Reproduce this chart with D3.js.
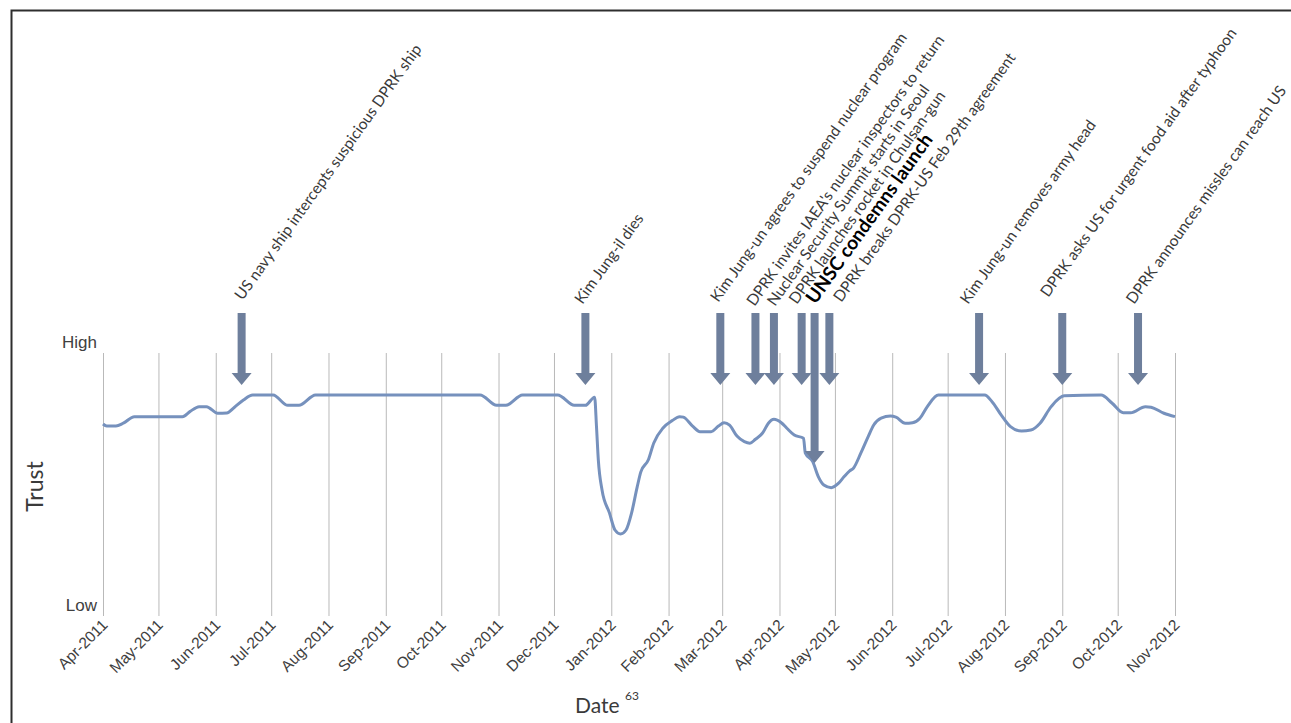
<!DOCTYPE html>
<html>
<head>
<meta charset="utf-8">
<script src="https://cdnjs.cloudflare.com/ajax/libs/d3/7.8.5/d3.min.js"></script>
<style>
  body { margin: 0; background: #fff; }
  svg { display: block; font-family: Lato, "Open Sans", sans-serif; }
  .x-axis text { fill: #404040; font-size: 15.5px; }
  .y-axis text { fill: #404040; font-size: 17px; }
</style>
</head>
<body>
<div id="chart"></div>
<script>
// 1: DATA (trust 0 = Low, 100 = High)
const trustDates = [
  "2011-04-01", "2011-04-03", "2011-04-08", "2011-04-12", "2011-04-18", "2011-05-14",
  "2011-05-18", "2011-05-23", "2011-05-27", "2011-06-02", "2011-06-07", "2011-06-11",
  "2011-06-16", "2011-06-21", "2011-07-02", "2011-07-10", "2011-07-16", "2011-07-25",
  "2011-10-22", "2011-10-31", "2011-11-05", "2011-11-14", "2011-12-03", "2011-12-12",
  "2011-12-18", "2011-12-23", "2011-12-24", "2011-12-25", "2011-12-27", "2011-12-31",
  "2012-01-03", "2012-01-06", "2012-01-09", "2012-01-12", "2012-01-15", "2012-01-17",
  "2012-01-21", "2012-01-24", "2012-01-29", "2012-02-03", "2012-02-07", "2012-02-09",
  "2012-02-14", "2012-02-18", "2012-02-24", "2012-02-28", "2012-03-02", "2012-03-05",
  "2012-03-09", "2012-03-13", "2012-03-16", "2012-03-19", "2012-03-23", "2012-03-26",
  "2012-03-29", "2012-04-02", "2012-04-05", "2012-04-09", "2012-04-14", "2012-04-15",
  "2012-04-19", "2012-04-22", "2012-04-25", "2012-04-29", "2012-05-03", "2012-05-06",
  "2012-05-09", "2012-05-11", "2012-05-15", "2012-05-19", "2012-05-22", "2012-05-26",
  "2012-05-31", "2012-06-03", "2012-06-08", "2012-06-12", "2012-06-16", "2012-06-20",
  "2012-06-26", "2012-07-21", "2012-07-25", "2012-07-30", "2012-08-04", "2012-08-10",
  "2012-08-15", "2012-08-20", "2012-08-26", "2012-09-02", "2012-09-22", "2012-09-28",
  "2012-10-04", "2012-10-08", "2012-10-16", "2012-10-19", "2012-10-26", "2012-11-01"
];
const trustValues = [
  73.0, 72.2, 72.2, 73.3, 75.8, 75.8,
  77.7, 79.6, 79.6, 77.1, 77.2, 79.3,
  82.1, 84.0, 84.0, 80.1, 80.1, 84.0,
  84.0, 80.1, 80.1, 84.0, 84.0, 80.1,
  80.1, 83.2, 72.0, 59.3, 47.9, 39.2,
  32.7, 31.2, 32.7, 39.2, 49.0, 54.8,
  59.3, 65.8, 71.5, 74.3, 75.8, 75.6,
  72.2, 70.1, 70.1, 72.2, 73.5, 72.6,
  68.4, 66.3, 65.7, 67.2, 69.7, 73.3,
  74.8, 73.5, 71.4, 68.8, 67.6, 61.9,
  58.7, 53.0, 49.8, 48.8, 50.5, 53.0,
  55.2, 56.2, 61.9, 68.2, 72.6, 75.2,
  76.0, 75.6, 73.3, 73.5, 75.2, 79.6,
  84.0, 84.0, 81.5, 76.4, 72.0, 70.3,
  70.7, 73.3, 79.6, 83.7, 84.0, 80.9,
  77.3, 77.3, 79.6, 79.4, 77.1, 75.8
];

const eventDates = [
  "2011-06-15", "2011-12-18", "2012-02-29", "2012-03-19", "2012-03-29", "2012-04-13",
  "2012-04-20", "2012-04-28", "2012-07-18", "2012-09-01", "2012-10-12"
];
const eventLabels = [
  "US navy ship intercepts suspicious DPRK ship",
  "Kim Jung-il dies",
  "Kim Jung-un agrees to suspend nuclear program",
  "DPRK invites IAEA's nuclear inspectors to return",
  "Nuclear Security Summit starts in Seoul",
  "DPRK launches rocket in Chulsan-gun",
  "UNSC condemns launch",
  "DPRK breaks DPRK-US Feb 29th agreement",
  "Kim Jung-un removes army head",
  "DPRK asks US for urgent food aid after typhoon",
  "DPRK announces missles can reach US"
];
const highlighted = "UNSC condemns launch";

const yTickValues = [0, 100];
const yTickLabels = ["Low", "High"];

// label nudges so the slanted texts don't collide (px, relative to arrow)
const labelNudge = [[1, -4], [-3, 0], [-2, -2], [-1, 2], [1, 2], [-5, 0], [1, 0], [12, -2], [-11, 0], [-14, -7], [-4, 0]];

// 2: LAYOUT
const W = 1291, H = 723;
const margin = { top: 353, left: 103 };
const width = 1072;
const height = 263;

const parse = d3.timeParse("%Y-%m-%d");
const series = trustDates.map((d, i) => ({ date: parse(d), value: trustValues[i] }));
const events = eventDates.map((d, i) => ({ date: parse(d), label: eventLabels[i], nudge: labelNudge[i] }));

const root = d3.select("#chart").append("svg")
  .attr("width", W)
  .attr("height", H);

// frame (only left and top edges are visible in the original crop)
root.append("path")
  .attr("d", `M11.5,${H} L11.5,10.5 L${W},10.5`)
  .attr("fill", "none")
  .attr("stroke", "#2e2e2e")
  .attr("stroke-width", 2);

const svg = root.append("g")
  .attr("transform", `translate(${margin.left},${margin.top})`);

const x = d3.scaleTime()
  .domain([parse("2011-04-01"), parse("2012-11-01")])
  .range([0, width]);
const y = d3.scaleLinear().domain([0, 100]).range([height, 0]);

// x axis with full-height gridlines
const xAxis = svg.append("g")
  .attr("class", "x-axis")
  .attr("transform", `translate(0,${height})`)
  .call(d3.axisBottom(x)
    .ticks(d3.timeMonth.every(1))
    .tickSize(-height)
    .tickFormat(d3.timeFormat("%b-%Y")));
xAxis.select(".domain").remove();
xAxis.selectAll(".tick line").attr("stroke", "#b9b9b9").attr("stroke-width", 1);
xAxis.selectAll(".tick text")
  .attr("text-anchor", "end")
  .attr("dy", 0)
  .attr("y", 0)
  .attr("transform", "translate(5,10) rotate(-45)");

// y axis: only Low / High labels
const yAxis = svg.append("g")
  .attr("class", "y-axis")
  .call(d3.axisLeft(y)
    .tickValues(yTickValues)
    .tickSize(0)
    .tickPadding(6)
    .tickFormat((d, i) => yTickLabels[i]));
yAxis.select(".domain").remove();
yAxis.selectAll(".tick text").attr("dy", "-0.35em");

// axis titles
root.append("text")
  .attr("transform", `translate(43,${margin.top + height / 2 + 2}) rotate(-90)`)
  .attr("text-anchor", "middle")
  .attr("fill", "#3a3a3a")
  .style("font-size", "23px")
  .text("Trust");

const dateTitle = root.append("text")
  .attr("x", 575)
  .attr("y", 713)
  .attr("fill", "#3a3a3a")
  .style("font-size", "21px");
dateTitle.append("tspan").text("Date ");
dateTitle.append("tspan")
  .attr("dy", -13)
  .style("font-size", "12px")
  .text("63");

// trust line
const line = d3.line()
  .x(d => x(d.date))
  .y(d => y(d.value))
  .curve(d3.curveMonotoneX);

svg.append("path")
  .datum(series)
  .attr("fill", "none")
  .attr("stroke", "#7691bd")
  .attr("stroke-width", 3)
  .attr("stroke-linejoin", "round")
  .attr("d", line);

// event arrows
const arrowTop = y(100) - 40;
const shaftW = 4, headW = 10, headH = 12;

svg.selectAll(".event-arrow")
  .data(events)
  .enter()
  .append("path")
  .attr("class", "event-arrow")
  .attr("fill", "#6e7f9c")
  .attr("d", d => {
    const cx = x(d.date);
    const tip = d.label === highlighted ? y(100) + 110 : y(100) + 32;
    return `M${cx - shaftW},${arrowTop} L${cx + shaftW},${arrowTop} L${cx + shaftW},${tip - headH}` +
      ` L${cx + headW},${tip - headH} L${cx},${tip} L${cx - headW},${tip - headH}` +
      ` L${cx - shaftW},${tip - headH} Z`;
  });

// slanted event labels
svg.selectAll(".event-label")
  .data(events)
  .enter()
  .append("text")
  .attr("class", "event-label")
  .attr("transform", d => `translate(${x(d.date) + d.nudge[0]},${arrowTop - 8 + d.nudge[1]}) rotate(-54.5)`)
  .attr("fill", d => d.label === highlighted ? "#000" : "#3a3a3a")
  .style("font-size", d => d.label === highlighted ? "19px" : "15.5px")
  .style("font-weight", d => d.label === highlighted ? "bold" : "normal")
  .text(d => d.label);
</script>
</body>
</html>
